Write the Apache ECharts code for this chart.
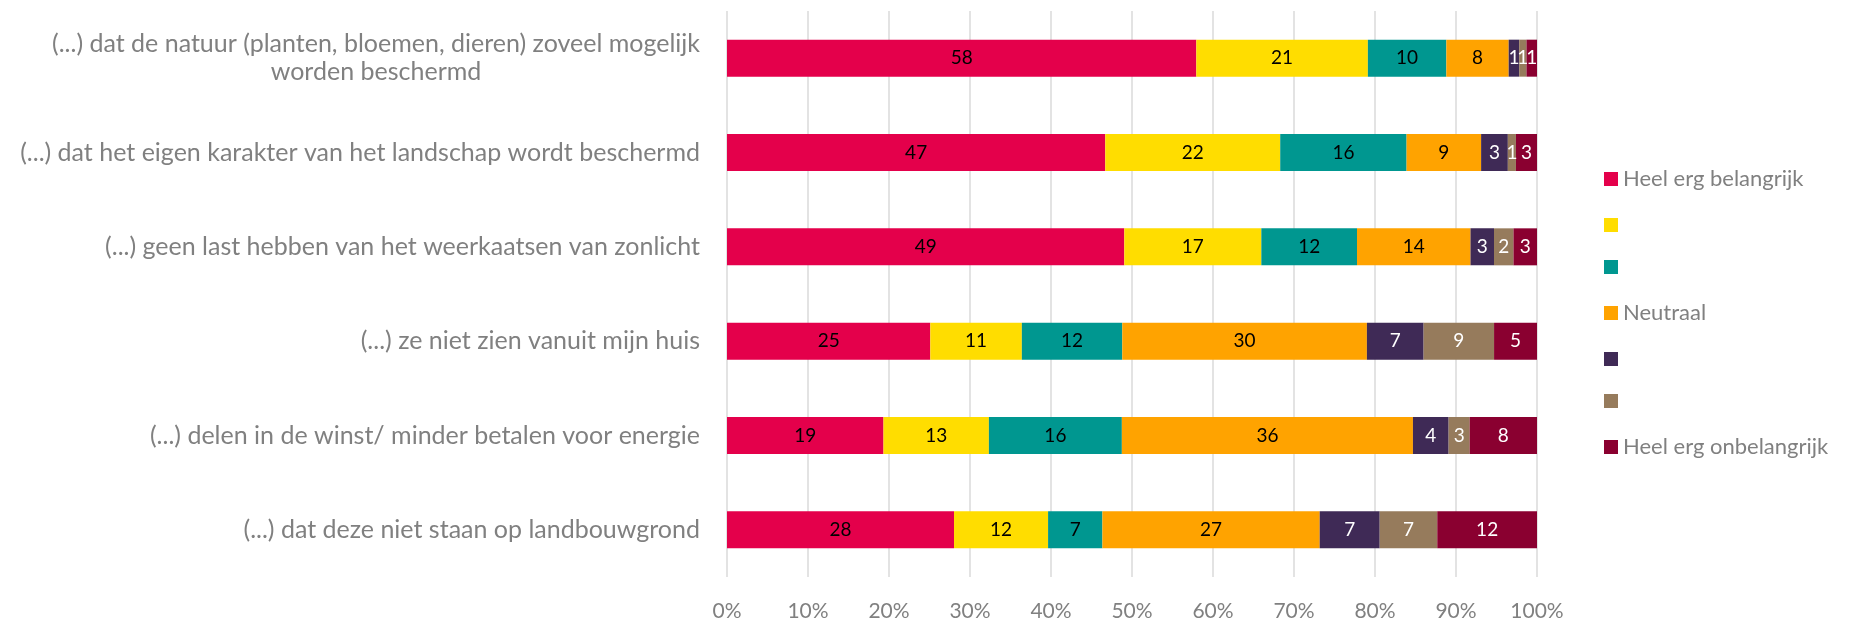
<!DOCTYPE html>
<html>
<head>
<meta charset="utf-8">
<script src="https://cdn.jsdelivr.net/npm/echarts@6/dist/echarts.min.js"></script>
<style>
    html, body { margin: 0; padding: 0; background: #fff; }
    #chart { width: 1850px; height: 622px; }
</style>
</head>
<body>
<div id="chart"></div>
<script>
// categorieën (van boven naar beneden)
var categories = [
    "(...) dat de natuur (planten, bloemen, dieren) zoveel mogelijk\nworden beschermd",
    "(...) dat het eigen karakter van het landschap wordt beschermd",
    "(...) geen last hebben van het weerkaatsen van zonlicht",
    "(...) ze niet zien vanuit mijn huis",
    "(...) delen in de winst/ minder betalen voor energie",
    "(...) dat deze niet staan op landbouwgrond"
];

var heelBelangrijk = [58.0, 46.7, 49.0, 25.1, 19.3, 28.0];
var score2 = [21.2, 21.6, 16.9, 11.3, 13.0, 11.6];
var score3 = [9.7, 15.6, 11.8, 12.4, 16.4, 6.7];
var neutraal = [7.7, 9.2, 14.0, 30.2, 35.9, 26.8];
var score5 = [1.3, 3.3, 2.9, 7.0, 4.4, 7.4];
var score6 = [0.9, 1.0, 2.4, 8.7, 2.6, 7.1];
var heelOnbelangrijk = [1.3, 2.6, 2.9, 5.3, 8.3, 12.3];

var xTicks = ["0%", "10%", "20%", "30%", "40%", "50%", "60%", "70%", "80%", "90%", "100%"];

var seriesDefs = [
    { name: "Heel erg belangrijk", data: heelBelangrijk, color: "#e4004b", text: "#000" },
    { name: "s2", data: score2, color: "#ffdd00", text: "#000" },
    { name: "s3", data: score3, color: "#009790", text: "#000" },
    { name: "Neutraal", data: neutraal, color: "#ffa300", text: "#000" },
    { name: "s5", data: score5, color: "#3f2a56", text: "#fff" },
    { name: "s6", data: score6, color: "#967b5c", text: "#fff" },
    { name: "Heel erg onbelangrijk", data: heelOnbelangrijk, color: "#8a0030", text: "#fff" }
];

// totaal per rij, om naar 100% te schalen
var totals = categories.map(function (c, i) {
    var t = 0;
    seriesDefs.forEach(function (s) { t += s.data[i]; });
    return t;
});

var series = seriesDefs.map(function (s) {
    return {
        name: s.name,
        type: "bar",
        stack: "totaal",
        barWidth: 37,
        itemStyle: { color: s.color },
        label: {
            show: true,
            position: "inside",
            color: s.text,
            fontSize: 19,
            fontFamily: "Lato",
            formatter: function (p) {
                return Math.round(s.data[p.dataIndex]);
            }
        },
        emphasis: { disabled: true },
        data: s.data.map(function (v, i) {
            return v / totals[i] * 100;
        })
    };
});

var chart = echarts.init(document.getElementById("chart"));
chart.setOption({
    animation: false,
    legend: {
        orient: "vertical",
        left: 1599,
        top: 163,
        itemWidth: 14,
        itemHeight: 14,
        itemGap: 28,
        icon: "rect",
        selectedMode: false,
        data: seriesDefs.map(function (s) { return s.name; }),
        formatter: function (name) {
            return /^s\d$/.test(name) ? "" : name;
        },
        textStyle: {
            color: "#808080",
            fontSize: 22,
            fontFamily: "Lato"
        }
    },
    grid: {
        left: 727,
        right: 313,
        top: 11,
        bottom: 44,
        containLabel: false
    },
    xAxis: {
        type: "value",
        min: 0,
        max: 100,
        interval: 10,
        axisLine: { show: false },
        axisTick: { show: false },
        splitLine: {
            show: true,
            lineStyle: { color: "#e3e3e3", width: 2 }
        },
        axisLabel: {
            color: "#808080",
            fontSize: 21,
            fontFamily: "Lato",
            margin: 24,
            formatter: function (v) {
                return xTicks[Math.round(v / 10)];
            }
        }
    },
    yAxis: {
        type: "category",
        inverse: true,
        data: categories,
        axisLine: { show: false },
        axisTick: { show: false },
        axisLabel: {
            color: "#808080",
            fontSize: 25,
            fontFamily: "Lato",
            margin: 27,
            formatter: function (value) {
                if (value.indexOf("\n") < 0) return value;
                // meerregelig label: regels gecentreerd
                return value.split("\n").map(function (l) {
                    return "{c|" + l + "}";
                }).join("\n");
            },
            rich: {
                c: {
                    align: "center",
                    color: "#808080",
                    fontSize: 25,
                    fontFamily: "Lato",
                    lineHeight: 28
                }
            }
        }
    },
    series: series
});
</script>
</body>
</html>
